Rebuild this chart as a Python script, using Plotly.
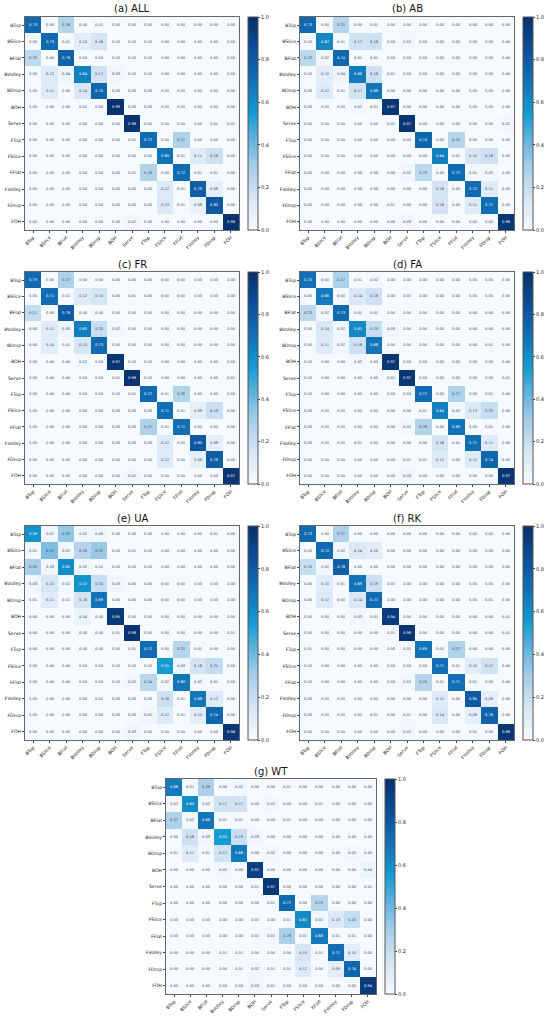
import plotly.graph_objects as go

W, H = 550, 1016

LABELS = ["BTop", "BSlice", "BFlat", "BVolley", "BDrop", "BOH", "Serve",
          "FTop", "FSlice", "FFlat", "FVolley", "FDrop", "FOH"]
TICKS = [0.0, 0.2, 0.4, 0.6, 0.8, 1.0]

CM_ALL = [
    [0.73, 0.00, 0.26, 0.00, 0.01, 0.00, 0.00, 0.00, 0.00, 0.00, 0.00, 0.00, 0.00],
    [0.00, 0.73, 0.01, 0.10, 0.16, 0.00, 0.00, 0.00, 0.00, 0.00, 0.00, 0.00, 0.00],
    [0.23, 0.00, 0.76, 0.00, 0.00, 0.00, 0.00, 0.00, 0.00, 0.00, 0.00, 0.00, 0.00],
    [0.00, 0.12, 0.04, 0.64, 0.17, 0.03, 0.00, 0.00, 0.00, 0.00, 0.00, 0.00, 0.00],
    [0.00, 0.11, 0.00, 0.14, 0.75, 0.00, 0.00, 0.00, 0.00, 0.00, 0.00, 0.00, 0.00],
    [0.00, 0.00, 0.00, 0.01, 0.00, 0.99, 0.00, 0.00, 0.00, 0.00, 0.00, 0.00, 0.00],
    [0.00, 0.00, 0.00, 0.00, 0.00, 0.00, 0.98, 0.00, 0.00, 0.00, 0.00, 0.01, 0.01],
    [0.00, 0.00, 0.00, 0.00, 0.00, 0.00, 0.01, 0.72, 0.00, 0.27, 0.00, 0.00, 0.00],
    [0.00, 0.00, 0.00, 0.00, 0.00, 0.00, 0.00, 0.00, 0.69, 0.01, 0.11, 0.18, 0.00],
    [0.00, 0.00, 0.00, 0.00, 0.00, 0.00, 0.01, 0.26, 0.00, 0.72, 0.01, 0.01, 0.00],
    [0.00, 0.00, 0.00, 0.00, 0.00, 0.00, 0.00, 0.00, 0.12, 0.01, 0.78, 0.08, 0.00],
    [0.00, 0.00, 0.00, 0.00, 0.00, 0.00, 0.00, 0.00, 0.13, 0.01, 0.06, 0.80, 0.00],
    [0.00, 0.00, 0.00, 0.00, 0.00, 0.00, 0.02, 0.00, 0.00, 0.00, 0.00, 0.00, 0.98],
]

CM_AB = [
    [0.73, 0.00, 0.25, 0.00, 0.01, 0.00, 0.00, 0.00, 0.00, 0.00, 0.00, 0.00, 0.00],
    [0.00, 0.62, 0.01, 0.17, 0.18, 0.00, 0.02, 0.00, 0.00, 0.00, 0.00, 0.00, 0.00],
    [0.23, 0.02, 0.74, 0.01, 0.01, 0.00, 0.00, 0.00, 0.00, 0.00, 0.00, 0.00, 0.00],
    [0.00, 0.10, 0.04, 0.66, 0.18, 0.01, 0.00, 0.00, 0.00, 0.00, 0.00, 0.00, 0.00],
    [0.00, 0.12, 0.01, 0.17, 0.68, 0.00, 0.00, 0.00, 0.00, 0.00, 0.00, 0.00, 0.00],
    [0.00, 0.00, 0.00, 0.02, 0.01, 0.97, 0.00, 0.00, 0.00, 0.00, 0.00, 0.00, 0.00],
    [0.00, 0.00, 0.00, 0.00, 0.00, 0.01, 0.97, 0.00, 0.00, 0.00, 0.00, 0.00, 0.02],
    [0.00, 0.00, 0.00, 0.00, 0.00, 0.00, 0.00, 0.74, 0.00, 0.25, 0.00, 0.00, 0.00],
    [0.00, 0.00, 0.00, 0.00, 0.00, 0.00, 0.00, 0.00, 0.64, 0.01, 0.15, 0.18, 0.00],
    [0.00, 0.00, 0.00, 0.00, 0.00, 0.00, 0.02, 0.23, 0.00, 0.72, 0.01, 0.02, 0.00],
    [0.00, 0.00, 0.00, 0.00, 0.00, 0.00, 0.00, 0.00, 0.16, 0.00, 0.72, 0.11, 0.00],
    [0.00, 0.00, 0.00, 0.00, 0.00, 0.01, 0.00, 0.00, 0.16, 0.00, 0.11, 0.71, 0.00],
    [0.00, 0.00, 0.00, 0.00, 0.00, 0.00, 0.03, 0.00, 0.00, 0.00, 0.00, 0.00, 0.96],
]

CM_FR = [
    [0.73, 0.00, 0.27, 0.00, 0.00, 0.00, 0.00, 0.00, 0.00, 0.00, 0.00, 0.00, 0.00],
    [0.00, 0.71, 0.01, 0.12, 0.15, 0.00, 0.01, 0.00, 0.00, 0.00, 0.00, 0.00, 0.00],
    [0.21, 0.00, 0.79, 0.00, 0.00, 0.00, 0.00, 0.00, 0.00, 0.00, 0.00, 0.00, 0.00],
    [0.00, 0.11, 0.03, 0.65, 0.20, 0.02, 0.00, 0.00, 0.00, 0.00, 0.00, 0.00, 0.00],
    [0.00, 0.10, 0.01, 0.15, 0.73, 0.00, 0.00, 0.00, 0.00, 0.00, 0.00, 0.00, 0.00],
    [0.00, 0.00, 0.00, 0.02, 0.00, 0.97, 0.00, 0.00, 0.00, 0.00, 0.00, 0.00, 0.00],
    [0.00, 0.00, 0.00, 0.00, 0.00, 0.01, 0.98, 0.00, 0.00, 0.00, 0.00, 0.00, 0.01],
    [0.00, 0.00, 0.00, 0.00, 0.00, 0.00, 0.01, 0.72, 0.01, 0.26, 0.00, 0.00, 0.00],
    [0.00, 0.00, 0.00, 0.00, 0.00, 0.00, 0.00, 0.00, 0.71, 0.01, 0.09, 0.19, 0.00],
    [0.00, 0.00, 0.00, 0.00, 0.00, 0.00, 0.00, 0.27, 0.01, 0.71, 0.00, 0.00, 0.00],
    [0.00, 0.00, 0.00, 0.00, 0.00, 0.00, 0.00, 0.00, 0.12, 0.00, 0.80, 0.08, 0.00],
    [0.00, 0.00, 0.00, 0.00, 0.00, 0.00, 0.00, 0.00, 0.12, 0.00, 0.08, 0.79, 0.00],
    [0.00, 0.00, 0.00, 0.00, 0.00, 0.00, 0.02, 0.00, 0.00, 0.00, 0.00, 0.00, 0.97],
]

CM_FA = [
    [0.70, 0.00, 0.27, 0.01, 0.02, 0.00, 0.00, 0.00, 0.00, 0.00, 0.00, 0.00, 0.00],
    [0.00, 0.66, 0.00, 0.14, 0.18, 0.00, 0.01, 0.00, 0.00, 0.00, 0.00, 0.00, 0.00],
    [0.23, 0.02, 0.73, 0.01, 0.01, 0.00, 0.00, 0.00, 0.00, 0.00, 0.00, 0.00, 0.00],
    [0.00, 0.14, 0.02, 0.61, 0.20, 0.03, 0.00, 0.00, 0.00, 0.00, 0.00, 0.00, 0.00],
    [0.00, 0.11, 0.02, 0.18, 0.68, 0.00, 0.00, 0.00, 0.00, 0.00, 0.00, 0.01, 0.00],
    [0.00, 0.00, 0.00, 0.02, 0.00, 0.97, 0.00, 0.00, 0.00, 0.00, 0.00, 0.00, 0.00],
    [0.00, 0.00, 0.00, 0.00, 0.00, 0.01, 0.97, 0.00, 0.00, 0.00, 0.00, 0.00, 0.01],
    [0.00, 0.00, 0.00, 0.00, 0.00, 0.00, 0.00, 0.72, 0.00, 0.27, 0.00, 0.01, 0.00],
    [0.00, 0.00, 0.00, 0.00, 0.00, 0.00, 0.00, 0.01, 0.64, 0.02, 0.13, 0.20, 0.00],
    [0.00, 0.00, 0.00, 0.00, 0.00, 0.00, 0.02, 0.26, 0.00, 0.69, 0.00, 0.01, 0.00],
    [0.00, 0.00, 0.00, 0.01, 0.00, 0.00, 0.00, 0.00, 0.16, 0.01, 0.71, 0.11, 0.00],
    [0.00, 0.00, 0.00, 0.00, 0.00, 0.00, 0.01, 0.01, 0.12, 0.00, 0.12, 0.74, 0.00],
    [0.00, 0.00, 0.00, 0.00, 0.00, 0.00, 0.03, 0.00, 0.00, 0.00, 0.00, 0.00, 0.97],
]

CM_UA = [
    [0.58, 0.02, 0.33, 0.02, 0.03, 0.00, 0.00, 0.00, 0.00, 0.00, 0.00, 0.01, 0.00],
    [0.01, 0.37, 0.02, 0.25, 0.32, 0.00, 0.01, 0.00, 0.00, 0.00, 0.00, 0.00, 0.00],
    [0.29, 0.03, 0.60, 0.02, 0.01, 0.00, 0.00, 0.00, 0.00, 0.00, 0.00, 0.00, 0.00],
    [0.03, 0.15, 0.02, 0.57, 0.20, 0.03, 0.00, 0.00, 0.00, 0.00, 0.00, 0.00, 0.00],
    [0.01, 0.11, 0.01, 0.16, 0.69, 0.00, 0.00, 0.00, 0.00, 0.00, 0.00, 0.00, 0.00],
    [0.00, 0.00, 0.00, 0.04, 0.00, 0.95, 0.00, 0.00, 0.00, 0.00, 0.00, 0.00, 0.00],
    [0.00, 0.00, 0.00, 0.00, 0.00, 0.01, 0.98, 0.00, 0.00, 0.00, 0.00, 0.00, 0.01],
    [0.00, 0.00, 0.00, 0.00, 0.00, 0.00, 0.01, 0.72, 0.00, 0.25, 0.01, 0.00, 0.00],
    [0.00, 0.00, 0.00, 0.00, 0.00, 0.00, 0.00, 0.00, 0.55, 0.03, 0.16, 0.21, 0.00],
    [0.00, 0.00, 0.00, 0.00, 0.00, 0.00, 0.02, 0.24, 0.02, 0.68, 0.02, 0.01, 0.00],
    [0.00, 0.00, 0.00, 0.00, 0.01, 0.00, 0.00, 0.00, 0.18, 0.01, 0.68, 0.12, 0.00],
    [0.00, 0.00, 0.00, 0.00, 0.00, 0.00, 0.00, 0.02, 0.12, 0.01, 0.10, 0.74, 0.00],
    [0.00, 0.00, 0.00, 0.00, 0.00, 0.00, 0.03, 0.00, 0.00, 0.00, 0.00, 0.00, 0.96],
]

CM_RK = [
    [0.73, 0.00, 0.27, 0.00, 0.00, 0.00, 0.00, 0.00, 0.00, 0.00, 0.00, 0.00, 0.00],
    [0.00, 0.72, 0.02, 0.14, 0.10, 0.00, 0.00, 0.00, 0.00, 0.00, 0.00, 0.00, 0.00],
    [0.20, 0.02, 0.78, 0.00, 0.00, 0.00, 0.00, 0.00, 0.00, 0.00, 0.00, 0.00, 0.00],
    [0.00, 0.10, 0.01, 0.69, 0.19, 0.01, 0.00, 0.00, 0.00, 0.00, 0.00, 0.00, 0.00],
    [0.00, 0.12, 0.00, 0.14, 0.72, 0.00, 0.00, 0.00, 0.00, 0.00, 0.00, 0.01, 0.00],
    [0.00, 0.00, 0.00, 0.03, 0.01, 0.94, 0.00, 0.00, 0.00, 0.00, 0.00, 0.00, 0.01],
    [0.00, 0.00, 0.00, 0.00, 0.00, 0.01, 0.98, 0.00, 0.00, 0.00, 0.00, 0.00, 0.01],
    [0.01, 0.00, 0.00, 0.00, 0.00, 0.00, 0.01, 0.69, 0.01, 0.27, 0.00, 0.00, 0.00],
    [0.00, 0.00, 0.00, 0.00, 0.00, 0.00, 0.00, 0.00, 0.71, 0.01, 0.10, 0.17, 0.00],
    [0.00, 0.00, 0.00, 0.00, 0.00, 0.00, 0.02, 0.25, 0.01, 0.71, 0.01, 0.00, 0.00],
    [0.00, 0.00, 0.00, 0.00, 0.00, 0.00, 0.00, 0.00, 0.11, 0.00, 0.80, 0.08, 0.00],
    [0.00, 0.00, 0.00, 0.00, 0.01, 0.00, 0.01, 0.00, 0.14, 0.00, 0.08, 0.76, 0.00],
    [0.00, 0.00, 0.00, 0.00, 0.00, 0.00, 0.02, 0.00, 0.00, 0.00, 0.01, 0.00, 0.96],
]

CM_WT = [
    [0.66, 0.01, 0.28, 0.00, 0.02, 0.00, 0.00, 0.01, 0.00, 0.00, 0.00, 0.00, 0.00],
    [0.02, 0.60, 0.02, 0.17, 0.17, 0.00, 0.02, 0.00, 0.00, 0.01, 0.00, 0.00, 0.00],
    [0.27, 0.02, 0.68, 0.01, 0.01, 0.00, 0.00, 0.01, 0.00, 0.00, 0.00, 0.00, 0.00],
    [0.00, 0.18, 0.03, 0.55, 0.19, 0.03, 0.00, 0.00, 0.00, 0.00, 0.00, 0.00, 0.00],
    [0.01, 0.11, 0.01, 0.17, 0.66, 0.00, 0.02, 0.00, 0.00, 0.00, 0.00, 0.02, 0.00],
    [0.00, 0.00, 0.00, 0.02, 0.00, 0.92, 0.00, 0.00, 0.00, 0.00, 0.00, 0.00, 0.04],
    [0.00, 0.00, 0.00, 0.00, 0.00, 0.01, 0.97, 0.00, 0.00, 0.00, 0.00, 0.00, 0.01],
    [0.00, 0.00, 0.00, 0.00, 0.00, 0.00, 0.01, 0.72, 0.00, 0.25, 0.00, 0.00, 0.00],
    [0.00, 0.00, 0.00, 0.00, 0.00, 0.01, 0.00, 0.01, 0.61, 0.02, 0.13, 0.20, 0.00],
    [0.00, 0.00, 0.00, 0.00, 0.00, 0.01, 0.02, 0.28, 0.01, 0.66, 0.01, 0.01, 0.00],
    [0.00, 0.00, 0.00, 0.01, 0.01, 0.00, 0.00, 0.00, 0.15, 0.01, 0.71, 0.10, 0.00],
    [0.00, 0.00, 0.00, 0.00, 0.01, 0.02, 0.01, 0.01, 0.12, 0.00, 0.09, 0.74, 0.00],
    [0.00, 0.00, 0.00, 0.00, 0.00, 0.03, 0.01, 0.00, 0.00, 0.00, 0.00, 0.00, 0.94],
]

TITLES = ["(a) ALL", "(b) AB", "(c) FR", "(d) FA", "(e) UA", "(f) RK", "(g) WT"]
MATRICES = [CM_ALL, CM_AB, CM_FR, CM_FA, CM_UA, CM_RK, CM_WT]

# pixel boxes of each heatmap: (left, right, top, bottom)
BOXES = [
    (25, 239, 17, 230), (300, 514, 17, 230),
    (25, 239, 272, 484), (300, 514, 272, 484),
    (25, 239, 526, 740), (300, 514, 526, 740),
    (166, 376, 779, 994),
]

BLUES = [
    [0.0, "rgb(245,250,255)"],
    [0.15, "rgb(215,230,245)"],
    [0.3, "rgb(165,205,232)"],
    [0.42, "rgb(100,180,222)"],
    [0.55, "rgb(20,155,208)"],
    [0.7, "rgb(18,112,182)"],
    [0.85, "rgb(12,78,152)"],
    [1.0, "rgb(8,48,107)"],
]


def px_x(v):
    return v / W


def px_y(v):
    return 1 - v / H


fig = go.Figure()
annotations = []
for i, (title, cm, box) in enumerate(zip(TITLES, MATRICES, BOXES)):
    left, right, top, bottom = box
    n = "" if i == 0 else str(i + 1)
    fig.add_trace(
        go.Heatmap(
            z=cm,
            x=LABELS,
            y=LABELS,
            xaxis="x" + n,
            yaxis="y" + n,
            zmin=0,
            zmax=1,
            colorscale=BLUES,
            texttemplate="%{z:.2f}",
            textfont={"size": 3.6, "family": "DejaVu Sans"},
            colorbar={
                "x": px_x(right + 9),
                "xanchor": "left",
                "y": px_y(bottom),
                "yanchor": "bottom",
                "len": (bottom - top) / H,
                "lenmode": "fraction",
                "thickness": 10,
                "thicknessmode": "pixels",
                "outlinewidth": 1,
                "outlinecolor": "#555555",
                "tickvals": TICKS,
                "tickformat": ".1f",
                "ticks": "outside",
                "ticklen": 2,
                "tickfont": {"size": 5, "family": "DejaVu Sans", "color": "#222222"},
                "xpad": 0,
                "ypad": 0,
            },
        )
    )
    axis_common = {
        "showline": True,
        "mirror": True,
        "linecolor": "#666666",
        "linewidth": 1,
        "ticks": "outside",
        "ticklen": 2,
        "tickcolor": "#444444",
        "tickfont": {"size": 4.6, "family": "DejaVu Sans", "color": "#222222"},
        "showgrid": False,
        "zeroline": False,
    }
    fig.layout["xaxis" + n] = dict(
        axis_common,
        domain=[px_x(left), px_x(right)],
        anchor="y" + n,
        tickangle=-45,
    )
    fig.layout["yaxis" + n] = dict(
        axis_common,
        domain=[px_y(bottom), px_y(top)],
        anchor="x" + n,
        autorange="reversed",
    )
    annotations.append(
        dict(
            text=title,
            x=px_x((left + right) / 2),
            y=px_y(top - 8),
            xref="paper",
            yref="paper",
            xanchor="center",
            yanchor="middle",
            showarrow=False,
            font={"size": 10, "family": "DejaVu Sans", "color": "#111111"},
        )
    )

fig.update_layout(
    width=W,
    height=H,
    margin={"l": 0, "r": 0, "t": 0, "b": 0},
    paper_bgcolor="white",
    plot_bgcolor="white",
    annotations=annotations,
)

# the page's default body margin would shift the whole picture by 8px
fig.write_html(
    "out.html",
    config={"displayModeBar": False},
    post_script="document.body.style.margin = '0';",
)
